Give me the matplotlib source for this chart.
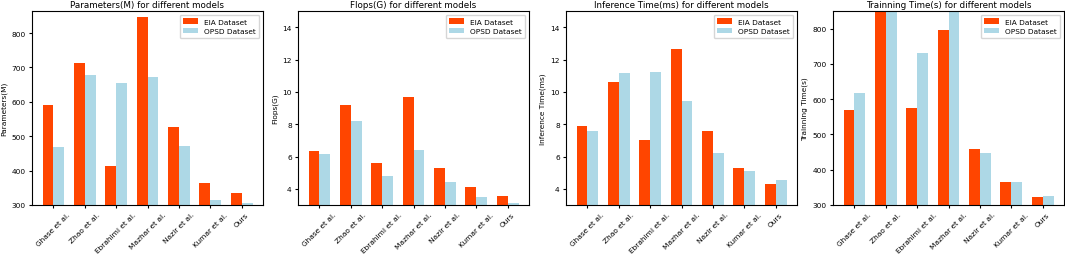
import numpy as np
import matplotlib
matplotlib.use("Agg")
import matplotlib.pyplot as plt

models = ["Ghase et al.", "Zhao et al.", "Ebrahimi et al.", "Mazhar et al.",
          "Nazir et al.", "Kumar et al.", "Ours"]

params_eia = [590, 714, 412, 846, 526, 365, 334]
params_opsd = [470, 678, 656, 672, 471, 315, 305]

flops_eia = [6.33, 9.18, 5.57, 9.66, 5.30, 4.13, 3.56]
flops_opsd = [6.16, 8.19, 4.80, 6.43, 4.43, 3.52, 3.14]

infer_eia = [7.9, 10.58, 7.0, 12.67, 7.6, 5.3, 4.27]
infer_opsd = [7.6, 11.14, 11.2, 9.42, 6.2, 5.12, 4.56]

train_eia = [568, 880, 574, 795, 460, 365, 324]
train_opsd = [618, 870, 731, 846, 448, 364, 326]

panels = [
    ("Parameters(M) for different models", "Parameters(M)", params_eia, params_opsd, (300, 864)),
    ("Flops(G) for different models", "Flops(G)", flops_eia, flops_opsd, (3, 15)),
    ("Inference Time(ms) for different models", "Inference Time(ms)", infer_eia, infer_opsd, (3, 15)),
    ("Trainning Time(s) for different models", "Trainning Time(s)", train_eia, train_opsd, (300, 850)),
]

W, H = 1065, 255
fig = plt.figure(figsize=(W / 100, H / 100), dpi=100)
lefts = [32, 298, 566, 833]

x = np.arange(len(models))
width = 0.35

for left, (title, ylabel, eia, opsd, ylim) in zip(lefts, panels):
    ax = fig.add_axes([left / W, 1 - 206 / H, 231 / W, 194 / H])
    ax.bar(x - width / 2, eia, width, color="#FF4500", label="EIA Dataset")
    ax.bar(x + width / 2, opsd, width, color="lightblue", label="OPSD Dataset")
    ax.set_ylim(*ylim)
    ax.set_title(title, fontsize=6.3, pad=3)
    ax.set_ylabel(ylabel, fontsize=5.3, labelpad=3)
    ax.set_xticks(x)
    ax.set_xticklabels(models, rotation=45, fontsize=5.3)
    ax.tick_params(axis="both", labelsize=5.3, length=2.5, pad=2)
    ax.legend(loc="upper right", fontsize=5.3, borderpad=0.5, handlelength=2.0)

fig.savefig("out.png", dpi=100)
